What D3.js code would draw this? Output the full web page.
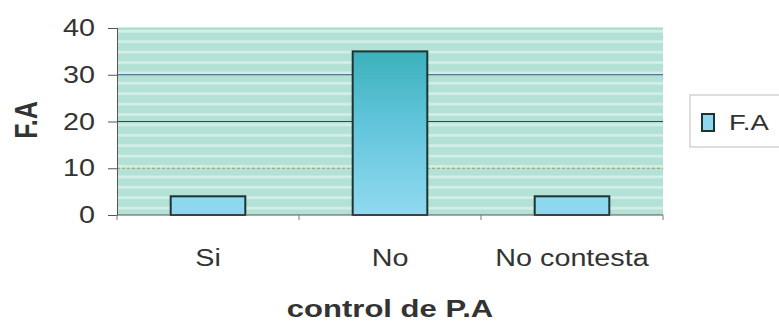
<!DOCTYPE html>
<html><head><meta charset="utf-8">
<script src="https://cdn.jsdelivr.net/npm/d3@7/dist/d3.min.js"></script>
<style>body{margin:0;background:#fff;}svg{display:block;font-family:"Liberation Sans",Arial,sans-serif;}</style>
</head><body>
<script>
const categories = ["Si", "No", "No contesta"];
const values = [4, 35, 4];
const yTicks = [0, 10, 20, 30, 40];
const seriesName = "F.A";
const xTitle = "control de P.A";
const yTitle = "F.A";

const W = 779, H = 329;
const m = {left: 117, right: 116, top: 28, bottom: 114};
const SX = 1.25; // horizontal stretch of text seen in the reference
const svg = d3.select("body").append("svg").attr("width", W).attr("height", H);
const defs = svg.append("defs");

const pat = defs.append("pattern").attr("id","bgp").attr("patternUnits","userSpaceOnUse")
  .attr("width", 40).attr("height", 10.4).attr("y", 28);
pat.append("rect").attr("width",40).attr("height",10.4).attr("fill","#b3e1d5");
pat.append("rect").attr("y",2).attr("width",40).attr("height",2.6).attr("fill","#d4efe8");

const grad = defs.append("linearGradient").attr("id","barg").attr("x1",0).attr("y1",0).attr("x2",0).attr("y2",1);
grad.append("stop").attr("offset","0%").attr("stop-color","#3cb1bb");
grad.append("stop").attr("offset","45%").attr("stop-color","#62c5db");
grad.append("stop").attr("offset","100%").attr("stop-color","#90daef");

const x = d3.scaleBand().domain(categories).range([m.left, W - m.right]).paddingInner(0.59).paddingOuter(0.295);
const y = d3.scaleLinear().domain([0, 40]).range([H - m.bottom, m.top]);

const g = svg.append("g");
g.append("rect").attr("x", m.left).attr("y", m.top)
  .attr("width", W - m.right - m.left).attr("height", H - m.bottom - m.top)
  .attr("fill", "url(#bgp)");

// gridlines
const gridStyle = {10: {c:"#9a9a60", d:"3,2"}, 20: {c:"#2e4a48", d:null}, 30: {c:"#3a5a80", d:null}, 40:{c:"#9fd8c8", d:null}};
g.selectAll(".grid").data(yTicks.filter(t => t > 0)).enter().append("line")
  .attr("x1", m.left).attr("x2", W - m.right)
  .attr("y1", d => y(d)).attr("y2", d => y(d))
  .attr("stroke", d => gridStyle[d].c).attr("stroke-width", 1)
  .attr("stroke-dasharray", d => gridStyle[d].d);

// bars
g.selectAll(".bar").data(values).enter().append("rect")
  .attr("x", (d,i) => x(categories[i]))
  .attr("y", d => y(d))
  .attr("width", x.bandwidth())
  .attr("height", d => y(0) - y(d))
  .attr("fill", d => d > 10 ? "url(#barg)" : "#8dd8ee")
  .attr("stroke", "#1d3434").attr("stroke-width", 2);

function stretchedText(parent, tx, ty, str, size, anchor, weight, sx) {
  const t = parent.append("g").attr("transform", `translate(${tx},${ty}) scale(${sx || SX},1)`);
  return t.append("text").attr("text-anchor", anchor).attr("font-size", size)
    .attr("font-weight", weight || "normal").attr("fill", "#333").text(str);
}

// y axis
const yAxis = d3.axisLeft(y).tickValues(yTicks).tickSize(9).tickFormat("");
const ya = svg.append("g").attr("transform", `translate(${m.left},0)`).call(yAxis);
ya.select(".domain").attr("stroke", "#555");
ya.selectAll(".tick line").attr("stroke", "#555");
yTicks.forEach(t => stretchedText(svg, 95, y(t) + 8, String(t), 23, "end"));

// x axis
const xa = svg.append("g").attr("transform", `translate(0,${H - m.bottom})`);
xa.append("line").attr("x1", m.left).attr("x2", W - m.right).attr("stroke", "#555");
const bounds = d3.range(categories.length + 1).map(i => m.left + i * (W - m.right - m.left) / categories.length);
xa.selectAll(".xt").data(bounds).enter().append("line")
  .attr("x1", d => d).attr("x2", d => d).attr("y1", 0).attr("y2", 5).attr("stroke", "#777");
categories.forEach(c => stretchedText(svg, x(c) + x.bandwidth()/2, 266, c, 23, "middle"));

// titles
stretchedText(svg, 390, 317, xTitle, 23, "middle", "bold", 1.35);
svg.append("g").attr("transform", `translate(37,120) scale(${SX},1) rotate(-90)`)
  .append("text").attr("text-anchor","middle").attr("font-size", 25).attr("font-weight","bold")
  .attr("fill","#333").text(yTitle);

// legend
const lg = svg.append("g");
lg.append("rect").attr("x", 690).attr("y", 95).attr("width", 100).attr("height", 52)
  .attr("fill", "#fff").attr("stroke", "#c4bcbc").attr("stroke-width", 1);
lg.append("rect").attr("x", 702).attr("y", 114).attr("width", 12).attr("height", 17)
  .attr("fill", "#8dd8ee").attr("stroke", "#1d3434").attr("stroke-width", 2);
stretchedText(lg, 729, 130, seriesName, 22, "start");
</script>
</body></html>
